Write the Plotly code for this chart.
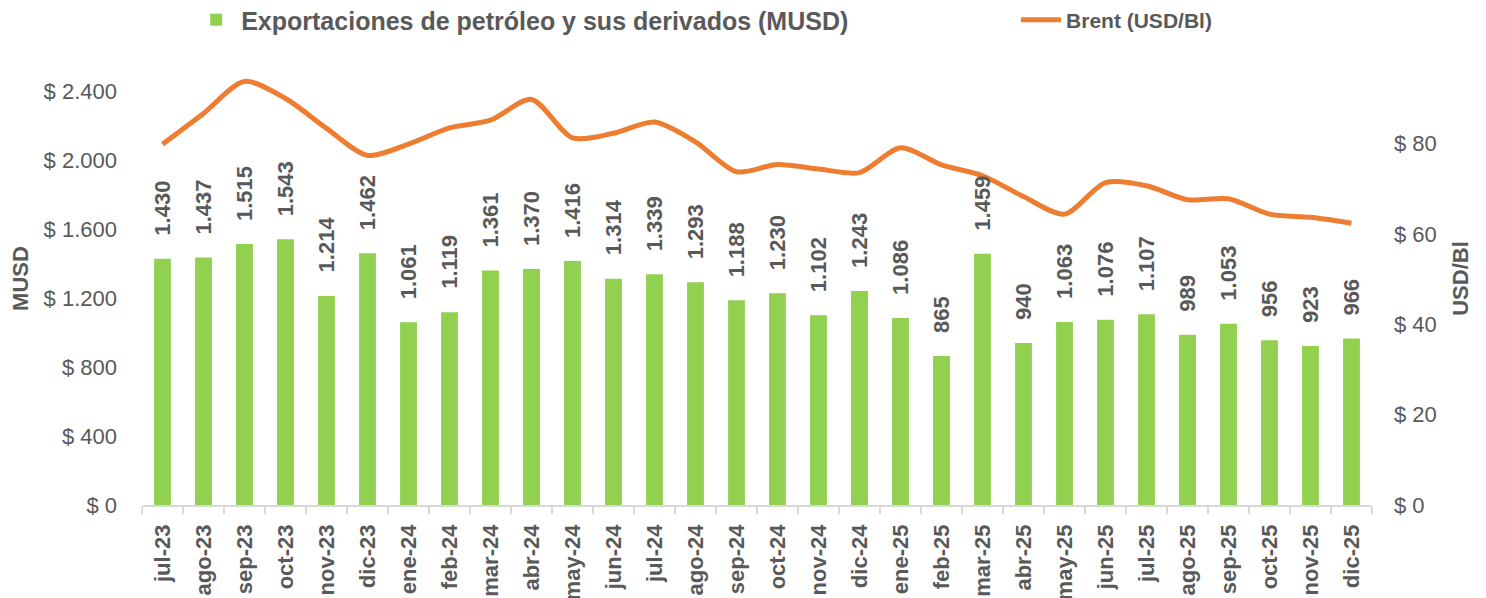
import plotly.graph_objects as go

months = ["jul-23", "ago-23", "sep-23", "oct-23", "nov-23", "dic-23",
          "ene-24", "feb-24", "mar-24", "abr-24", "may-24", "jun-24",
          "jul-24", "ago-24", "sep-24", "oct-24", "nov-24", "dic-24",
          "ene-25", "feb-25", "mar-25", "abr-25", "may-25", "jun-25",
          "jul-25", "ago-25", "sep-25", "oct-25", "nov-25", "dic-25"]

exports_musd = [1430, 1437, 1515, 1543, 1214, 1462, 1061, 1119, 1361, 1370,
                1416, 1314, 1339, 1293, 1188, 1230, 1102, 1243, 1086, 865,
                1459, 940, 1063, 1076, 1107, 989, 1053, 956, 923, 966]

brent_usd = [79.9, 86.7, 93.8, 90.0, 83.4, 77.4, 79.9, 83.5, 85.2, 89.8,
             81.3, 82.3, 84.8, 80.4, 73.8, 75.4, 74.4, 73.6, 79.1, 75.3,
             72.9, 68.3, 64.4, 71.4, 70.7, 67.6, 67.8, 64.4, 63.7, 62.4]

left_ticks = [0, 400, 800, 1200, 1600, 2000, 2400]
right_ticks = [0, 20, 40, 60, 80]


def fmt(v):
    return f"{v:,}".replace(",", ".")


GREEN = "#92D050"
ORANGE = "#ED7D31"
TXT = "#595959"
FONT = "Liberation Sans"

fig = go.Figure()
fig.add_trace(go.Bar(
    x=months, y=exports_musd,
    name="Exportaciones de petróleo y sus derivados (MUSD)",
    marker=dict(color=GREEN, line=dict(width=0)),
    yaxis="y", legend="legend",
))
fig.add_trace(go.Scatter(
    x=months, y=brent_usd, name="Brent (USD/Bl)",
    mode="lines", line=dict(color=ORANGE, width=5, shape="spline", smoothing=0.8),
    yaxis="y2", legend="legend2",
))

for m, v in zip(months, exports_musd):
    fig.add_annotation(
        x=m, y=v, xref="x", yref="y",
        text=fmt(v),
        textangle=-90, showarrow=False,
        yanchor="bottom", xanchor="center", yshift=21,
        font=dict(family=FONT, size=22, color=TXT, weight="bold"),
    )

fig.update_layout(
    width=1478, height=590,
    margin=dict(l=134, r=114, t=44, b=93, autoexpand=False),
    paper_bgcolor="white", plot_bgcolor="white",
    separators=",.",
    bargap=0.59,
    showlegend=True,
    legend=dict(
        orientation="h", x=0.040, xanchor="left", y=1.0706, yanchor="middle",
        font=dict(family=FONT, size=25, color=TXT, weight="bold"),
        bgcolor="rgba(0,0,0,0)", itemwidth=40,
    ),
    legend2=dict(
        orientation="h", x=0.7106, xanchor="left", y=1.0706, yanchor="middle",
        font=dict(family=FONT, size=21, color=TXT, weight="bold"),
        bgcolor="rgba(0,0,0,0)", itemwidth=40,
    ),
    xaxis=dict(
        type="category", showgrid=False, showline=True, linecolor="#D9D9D9", linewidth=1.5,
        ticks="outside", tickson="boundaries", ticklen=7, tickcolor="#D9D9D9", tickwidth=1.5,
        tickangle=-90, ticklabelstandoff=9,
        tickfont=dict(family=FONT, size=22, color=TXT, weight="bold"),
    ),
    yaxis=dict(
        range=[0, 2630], tickmode="array", tickvals=left_ticks,
        ticktext=["$ " + fmt(v) for v in left_ticks],
        showgrid=False, zeroline=False, showline=False, ticks="",
        ticklabelstandoff=24,
        tickfont=dict(family=FONT, size=22, color=TXT),
        title=dict(text="MUSD", standoff=15,
                   font=dict(family=FONT, size=22, color=TXT, weight="bold")),
    ),
    yaxis2=dict(
        range=[0, 100.3], tickmode="array", tickvals=right_ticks,
        ticktext=["$ " + fmt(v) for v in right_ticks],
        overlaying="y", side="right",
        showgrid=False, zeroline=False, showline=False, ticks="",
        ticklabelstandoff=21,
        tickfont=dict(family=FONT, size=22, color=TXT),
        title=dict(text="USD/Bl", standoff=16,
                   font=dict(family=FONT, size=22, color=TXT, weight="bold")),
    ),
)

fig.write_html("out.html")
